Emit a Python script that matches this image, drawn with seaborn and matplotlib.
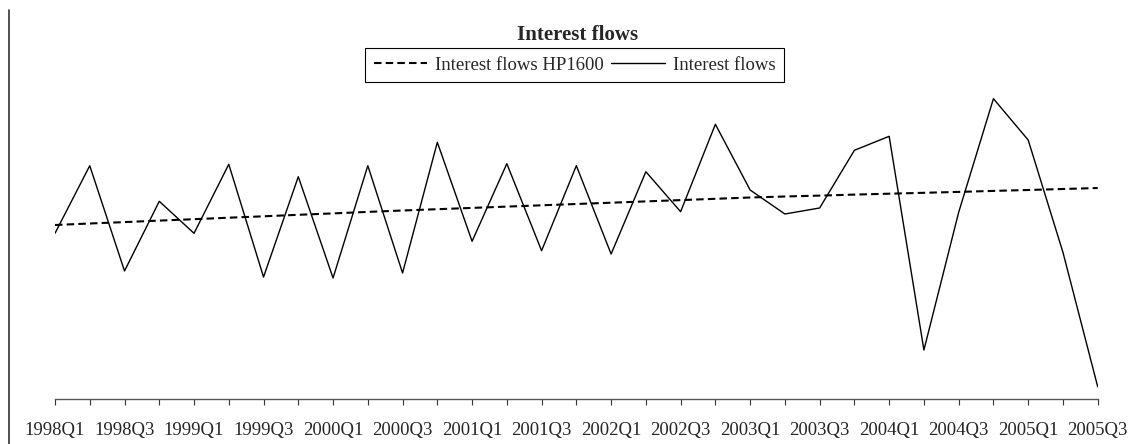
import numpy as np
import pandas as pd
import matplotlib
matplotlib.use("Agg")
import matplotlib.pyplot as plt
from matplotlib.lines import Line2D
import seaborn as sns

quarters = [f"{y}Q{q}" for y in range(1998, 2006) for q in range(1, 5)][:31]

interest_flows = [166.0, 233.6, 128.3, 198.0, 166.0, 235.0, 122.3, 222.6,
                  121.3, 233.6, 126.3, 257.0, 158.0, 235.6, 148.6, 233.6,
                  145.3, 227.6, 187.6, 275.0, 209.3, 185.3, 191.3, 249.0,
                  263.0, 49.3, 187.0, 300.6, 259.3, 147.0, 12.6]

interest_flows_hp = [174.3, 175.8, 177.2, 178.7, 180.1, 181.6, 183.0, 184.5,
                     185.9, 187.4, 188.8, 190.1, 191.4, 192.7, 194.0, 195.3,
                     196.6, 197.9, 199.2, 200.5, 201.8, 202.8, 203.7, 204.7,
                     205.6, 206.5, 207.4, 208.4, 209.3, 210.3, 211.3]

df = pd.DataFrame({"idx": np.arange(len(quarters)),
                   "quarter": quarters,
                   "flows": interest_flows,
                   "hp": interest_flows_hp})

sns.set_theme(style="white")
plt.rcParams["font.family"] = ["Liberation Serif", "DejaVu Serif"]

W, H = 1137, 444
fig = plt.figure(figsize=(W / 100, H / 100), dpi=100)
ax_left, ax_right = 55, 1097.7
ax_bottom_px, ax_top_px = 399.3, 90
ax = fig.add_axes([ax_left / W, (H - ax_bottom_px) / H,
                   (ax_right - ax_left) / W, (ax_bottom_px - ax_top_px) / H])

sns.lineplot(data=df, x="idx", y="hp", ax=ax, color="black", linewidth=1.5,
             dashes=False, label="Interest flows HP1600")
ax.lines[-1].set_dashes((3.6, 2.0))
sns.lineplot(data=df, x="idx", y="flows", ax=ax, color="black", linewidth=1.0,
             label="Interest flows")

ax.set_xlim(0, len(quarters) - 1)
ax.set_ylim(0, ax_bottom_px - ax_top_px)
ax.set_xlabel("")
ax.set_ylabel("")
ax.set_yticks([])
ax.set_xticks(df["idx"])
ax.set_xticklabels([q if i % 2 == 0 else "" for i, q in enumerate(quarters)],
                   fontsize=13.5)
ax.tick_params(axis="x", direction="out", length=4.3, width=0.8,
               color="#333333", pad=12, bottom=True)
for s in ["top", "right", "left"]:
    ax.spines[s].set_visible(False)
ax.spines["bottom"].set_color("#555555")
ax.spines["bottom"].set_linewidth(1.0)
ax.patch.set_alpha(0)

leg = ax.legend(loc="center", bbox_to_anchor=(574.5 / W, 1 - 65 / H),
                bbox_transform=fig.transFigure, ncol=2, frameon=True,
                fancybox=False, fontsize=13.5, handlelength=2.85,
                handletextpad=0.42, columnspacing=0.4, borderpad=0.45,
                borderaxespad=0)
leg.get_frame().set_edgecolor("black")
leg.get_frame().set_linewidth(0.8)
leg.get_frame().set_alpha(1)

fig.text(577.5 / W, 1 - 34.5 / H, "Interest flows", ha="center", va="center",
         fontsize=15, fontweight="bold")

fig.add_artist(Line2D([8.5 / W, 8.5 / W], [0, 1 - 10 / H],
                      transform=fig.transFigure, color="#333333", linewidth=1.2))

fig.savefig("out.png", dpi=100)
